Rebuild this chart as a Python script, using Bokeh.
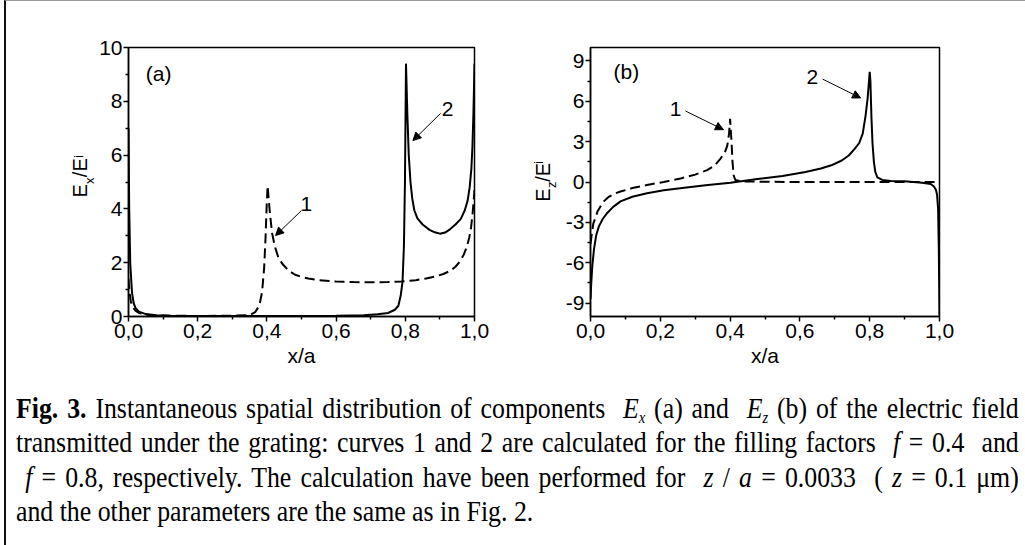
from math import pi
from bokeh.plotting import figure
from bokeh.layouts import column, row
from bokeh.models import (Range1d, FixedTicker, CustomJSTickFormatter, Label,
                          Arrow, NormalHead, Div)
from bokeh.core.properties import value
from bokeh.embed import file_html
from bokeh.resources import INLINE

# ---------------- data ----------------
# panel (a): E_x / E^i
a_x_f08 = [0, 0.002, 0.005, 0.01, 0.015, 0.02, 0.03, 0.05, 0.08, 0.12, 0.2, 0.3, 0.4,
           0.5, 0.6, 0.68, 0.72, 0.75, 0.77, 0.78, 0.787, 0.792, 0.796, 0.799, 0.802,
           0.806, 0.81, 0.815, 0.82, 0.826, 0.835, 0.85, 0.87, 0.885, 0.9, 0.915, 0.93,
           0.945, 0.96, 0.972, 0.98, 0.986, 0.991, 0.994, 0.997, 0.999, 1.0]
a_y_f08 = [7.0, 4.0, 2.0, 0.9, 0.5, 0.32, 0.18, 0.09, 0.05, 0.03, 0.02, 0.02, 0.02,
           0.02, 0.03, 0.05, 0.08, 0.13, 0.25, 0.4, 0.8, 1.3, 2.6, 5.0, 9.4,
           7.5, 6.0, 5.0, 4.4, 3.95, 3.65, 3.42, 3.22, 3.13, 3.08, 3.12, 3.25,
           3.42, 3.62, 3.95, 4.3, 4.8, 5.5, 6.3, 7.6, 8.8, 9.4]
a_x_f04 = [0, 0.003, 0.007, 0.012, 0.02, 0.03, 0.05, 0.08, 0.12, 0.2, 0.3, 0.35,
           0.366, 0.378, 0.386, 0.392, 0.396, 0.399, 0.402, 0.405, 0.409, 0.415,
           0.423, 0.433, 0.445, 0.462, 0.48, 0.5, 0.52, 0.55, 0.6, 0.65, 0.7, 0.75,
           0.79, 0.83, 0.86, 0.885, 0.91, 0.93, 0.945, 0.958, 0.969, 0.978, 0.985,
           0.99, 0.995, 1.0]
a_y_f04 = [1.4, 0.9, 0.55, 0.35, 0.22, 0.13, 0.07, 0.04, 0.03, 0.02, 0.03, 0.05,
           0.16, 0.4, 0.9, 1.8, 2.9, 4.0, 4.86, 4.4, 3.8, 3.1,
           2.6, 2.2, 1.95, 1.72, 1.56, 1.47, 1.41, 1.35, 1.3, 1.28, 1.27, 1.28,
           1.3, 1.35, 1.41, 1.48, 1.58, 1.7, 1.85, 2.05, 2.3, 2.6, 2.95,
           3.3, 3.9, 4.7]

# panel (b): E_z / E^i
b_x_f08 = [0, 0.002, 0.005, 0.01, 0.016, 0.024, 0.035, 0.048, 0.065, 0.086, 0.12,
           0.162, 0.21, 0.257, 0.33, 0.401, 0.478, 0.55, 0.616, 0.66, 0.69, 0.72,
           0.74, 0.758, 0.77, 0.78, 0.788, 0.794, 0.798, 0.8, 0.802, 0.805, 0.808,
           0.812, 0.816, 0.822, 0.836, 0.86, 0.9, 0.95, 0.975, 0.984, 0.99, 0.993,
           0.996, 0.998, 1.0]
b_y_f08 = [-8.7, -7.6, -6.3, -5.0, -4.0, -3.3, -2.75, -2.3, -1.85, -1.44, -1.1,
           -0.83, -0.62, -0.47, -0.25, -0.05, 0.22, 0.45, 0.75, 1.0, 1.24, 1.6,
           1.97, 2.5, 2.9, 3.6, 4.9, 6.2, 7.5, 8.2, 7.5, 4.8, 2.9,
           1.5, 0.75, 0.35, 0.15, 0.08, 0.05, -0.05, -0.15, -0.34, -0.6, -0.95,
           -2.0, -5.0, -9.9]
b_x_f04 = [0, 0.004, 0.008, 0.014, 0.02, 0.03, 0.038, 0.05, 0.07, 0.086, 0.12,
           0.162, 0.21, 0.258, 0.3, 0.334, 0.355, 0.372, 0.385, 0.392, 0.397, 0.4,
           0.404, 0.407, 0.41, 0.415, 0.43, 0.5, 0.6, 0.7, 0.8, 0.9, 0.95, 0.98, 1.0]
b_y_f04 = [-4.6, -3.8, -3.1, -2.66, -2.2, -1.75, -1.44, -1.15, -0.85, -0.71, -0.45,
           -0.22, 0.0, 0.26, 0.55, 0.88, 1.2, 1.72, 2.2, 2.7, 3.6, 4.7,
           3.0, 1.48, 0.5, 0.15, 0.05, 0.02, 0.0, 0.0, 0.0, 0.0, 0.0, 0.0, 0.0]

x_ticks = [0.0, 0.2, 0.4, 0.6, 0.8, 1.0]
x_minor = [0.1, 0.3, 0.5, 0.7, 0.9]
a_y_ticks = [0, 2, 4, 6, 8, 10]
a_y_minor = [1, 3, 5, 7, 9]
b_y_ticks = [-9, -6, -3, 0, 3, 6, 9]
b_y_minor = [-7.5, -4.5, -1.5, 1.5, 4.5, 7.5]

FONT = "Liberation Sans"
FS = "21px"
H = 384


def panel(width, mb, yr, yticks, yminor):
    p = figure(width=width, height=H, x_range=Range1d(0, 1), y_range=Range1d(*yr),
               output_backend="svg", toolbar_location=None,
               min_border_left=mb[0], min_border_right=mb[1],
               min_border_top=mb[2], min_border_bottom=mb[3])
    p.xgrid.visible = False
    p.ygrid.visible = False
    p.outline_line_color = "black"
    p.outline_line_width = 1.5
    p.outline_line_alpha = 1
    p.background_fill_color = "white"
    p.border_fill_color = "white"
    for ax in (p.xaxis[0], p.yaxis[0]):
        ax.axis_line_width = 1.5
        ax.axis_line_color = "black"
        ax.major_tick_line_width = 1.5
        ax.minor_tick_line_width = 1.5
        ax.major_tick_line_color = "black"
        ax.minor_tick_line_color = "black"
        ax.major_tick_in = 0
        ax.major_tick_out = 5
        ax.minor_tick_in = 0
        ax.minor_tick_out = 3
        ax.major_label_text_font = FONT
        ax.major_label_text_font_size = FS
        ax.major_label_text_color = "black"
        ax.major_label_standoff = 1
    p.xaxis.major_label_standoff = 2
    p.xaxis.ticker = FixedTicker(ticks=x_ticks, minor_ticks=x_minor)
    p.xaxis.formatter = CustomJSTickFormatter(code="return tick.toFixed(1).replace('.', ',');")
    p.xaxis.axis_label = "x/a"
    p.xaxis.axis_label_text_font = FONT
    p.xaxis.axis_label_text_font_size = FS
    p.xaxis.axis_label_text_font_style = "normal"
    p.xaxis.axis_label_text_color = "black"
    p.xaxis.axis_label_standoff = 3
    p.yaxis.ticker = FixedTicker(ticks=yticks, minor_ticks=yminor)
    p.yaxis.formatter = CustomJSTickFormatter(code="return tick.toFixed(0);")
    return p


def helper(width, yrange, top, bottom):
    h = figure(width=width, height=H, x_range=Range1d(0, 1), y_range=yrange,
               output_backend="svg", toolbar_location=None,
               x_axis_type=None, y_axis_type=None,
               min_border_left=0, min_border_right=0,
               min_border_top=top, min_border_bottom=bottom)
    h.xgrid.visible = False
    h.ygrid.visible = False
    h.outline_line_color = None
    h.background_fill_color = "white"
    h.border_fill_color = "white"
    return h


def rot(h, x, y, s, size):
    h.text(x=[x], y=[y], text=[s], text_font=value(FONT), text_font_size=value(size),
           text_align="left", text_baseline="middle", angle=pi / 2, text_color="black")


def txt(p, x, y, s, align="center"):
    p.add_layout(Label(x=x, y=y, text=s, text_font=FONT, text_font_size=FS,
                       text_align=align, text_baseline="middle", text_color="black"))


def arrow(p, x0, y0, x1, y1):
    p.add_layout(Arrow(end=NormalHead(size=8, fill_color="black", line_color="black",
                                      line_width=1),
                       x_start=x0, y_start=y0, x_end=x1, y_end=y1,
                       line_color="black", line_width=1))


# ---------------- panel (a) ----------------
pa = panel(410, (30, 32, 46, 69), (0, 10), a_y_ticks, a_y_minor)
pa.line(a_x_f04, a_y_f04, line_color="black", line_width=2, line_dash="10 5")
pa.line(a_x_f08, a_y_f08, line_color="black", line_width=2)
txt(pa, 0.05, 9.03, "(a)", align="left")
txt(pa, 0.922, 7.73, "2")
txt(pa, 0.514, 4.2, "1")
arrow(pa, 0.902, 7.55, 0.822, 6.54)
arrow(pa, 0.5, 3.94, 0.425, 3.01)

ha = helper(90, pa.y_range, 46, 69)
# rotated y label  E_x / E^i
rot(ha, 0.822, 4.42, "E", "20px")
rot(ha, 0.922, 4.93, "x", "13px")
rot(ha, 0.822, 5.18, "/E", "20px")
rot(ha, 0.80, 5.9, "i", "12px")

# ---------------- panel (b) ----------------
pb = panel(461, (30, 82, 42, 68), (-10, 10), b_y_ticks, b_y_minor)
pb.line(b_x_f04, b_y_f04, line_color="black", line_width=2, line_dash="10 5")
pb.line(b_x_f08, b_y_f08, line_color="black", line_width=2)
txt(pb, 0.066, 8.18, "(b)", align="left")
txt(pb, 0.636, 7.81, "2")
txt(pb, 0.244, 5.40, "1")
arrow(pb, 0.665, 7.65, 0.774, 6.25)
arrow(pb, 0.272, 5.28, 0.381, 3.89)

hb = helper(54, pb.y_range, 42, 68)
# rotated y label  E_z / E^i
rot(hb, 0.676, -1.46, "E", "20px")
rot(hb, 0.833, -0.44, "z", "13px")
rot(hb, 0.676, 0.02, "/E", "20px")
rot(hb, 0.611, 1.36, "i", "12px")

# ---------------- caption ----------------
J = "text-align:justify;text-align-last:justify;"
SUB = "font-size:17px;position:relative;top:5px;line-height:0;"
cap = (
    "<div style='width:1003px;overflow:hidden;margin-left:5px;'>"
    "<div style=\"width:1166px;transform:scaleX(0.86);transform-origin:0 0;"
    "font-family:'Liberation Serif';font-size:30px;line-height:34.3px;color:#000;"
    "padding-top:1px;\">"
    f"<div style='{J}'><b>Fig. 3.</b> Instantaneous spatial distribution of components&nbsp; "
    f"<i>E</i><span style='{SUB}'><i>x</i></span>&nbsp;(a) and&nbsp; "
    f"<i>E</i><span style='{SUB}'><i>z</i></span>&nbsp;(b) of the electric field</div>"
    f"<div style='{J}'>transmitted under the grating: curves 1 and 2 are calculated for the "
    "filling factors&nbsp; <i>f</i> = 0.4&nbsp; and</div>"
    f"<div style='{J}'>&nbsp;<i>f</i> = 0.8, respectively. The calculation have been performed "
    "for&nbsp; <i>z</i> / <i>a</i> = 0.0033&nbsp; (&nbsp;<i>z</i> = 0.1 \u03bcm)</div>"
    "<div style='white-space:nowrap;'>and the other parameters are the same as in Fig. 2.</div>"
    "</div></div>"
)
caption = Div(text=cap, width=1015, height=157)

layout = column(row(ha, pa, hb, pb), caption,
                styles={"margin-left": "4px", "margin-top": "0px",
                        "border-left": "2px solid #111",
                        "border-top": "1px solid #999",
                        "border-bottom": "2px solid #111",
                        "background": "white"})

open("out.html", "w").write(file_html(layout, INLINE))
